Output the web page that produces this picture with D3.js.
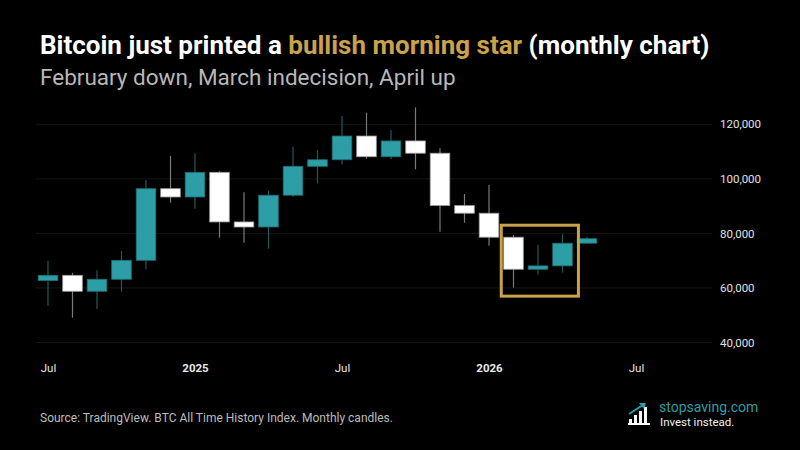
<!DOCTYPE html>
<html>
<head>
<meta charset="utf-8">
<script src="https://cdn.jsdelivr.net/npm/d3@7"></script>
<style>
  html, body { margin: 0; padding: 0; background: #000; }
  svg { display: block; }
</style>
</head>
<body>
<div id="chart"></div>
<script>
// monthly candles, Jul 2024 .. May 2026 (index 0 = Jul 2024)
const months = ["2024-07","2024-08","2024-09","2024-10","2024-11","2024-12",
  "2025-01","2025-02","2025-03","2025-04","2025-05","2025-06","2025-07","2025-08",
  "2025-09","2025-10","2025-11","2025-12","2026-01","2026-02","2026-03","2026-04","2026-05"];
const opens  = [62700, 64640, 58780, 63180, 70140, 96390, 93350, 102400, 84200, 82350, 94000, 104600, 107000, 115700, 108100, 113900, 109400, 90200, 87400, 78600, 66850, 68100, 76400];
const highs  = [69900, 65500, 66500, 73550, 99580, 108380, 109400, 102800, 95070, 95660, 111800, 110500, 123000, 124250, 117900, 126200, 111200, 94450, 97750, 79400, 75860, 79670, 78800];
const lows   = [53500, 49100, 52400, 58630, 66840, 91260, 89060, 78430, 76600, 74400, 93400, 98370, 105300, 107400, 107300, 103500, 80630, 83930, 75500, 60100, 64860, 65600, 76300];
const closes = [64640, 58780, 63180, 70140, 96390, 93350, 102400, 84200, 82350, 94000, 104600, 107000, 115700, 108100, 113900, 109400, 90200, 87400, 78600, 66850, 68100, 76400, 78060];

const xTickIdx    = [0, 6, 12, 18, 24];
const xTickLabels = ["Jul", "2025", "Jul", "2026", "Jul"];
const yTicks      = [40000, 60000, 80000, 100000, 120000];

// morning star highlight: Feb..Apr 2026
const starMonths = [19, 21];
const starRange  = [57000, 83000];

const W = 800, H = 450;
const teal = "#2d9ea6", gold = "#c9a24b";

const svg = d3.select("#chart").append("svg")
  .attr("width", W).attr("height", H)
  .style("background", "#000")
  .style("font-family", "Roboto, 'Noto Sans', sans-serif");

// title
const title = svg.append("text")
  .attr("x", 40).attr("y", 54)
  .attr("font-size", 26).attr("font-weight", 700).attr("fill", "#fff");
title.append("tspan").text("Bitcoin just printed a ");
title.append("tspan").attr("fill", gold).text("bullish morning star");
title.append("tspan").text(" (monthly chart)");

svg.append("text")
  .attr("x", 40).attr("y", 85)
  .attr("font-size", 22.5).attr("fill", "#b8b8b8")
  .text("February down, March indecision, April up");

// scales
const x = d3.scaleLinear().domain([0, 24]).range([48, 636]);
const y = d3.scaleLinear().domain([40000, 120000]).range([342.5, 124.3]);
const step = x(1) - x(0);
const bw = step * 0.8;

// grid
svg.append("g").selectAll("line")
  .data(yTicks).enter().append("line")
    .attr("x1", 36).attr("x2", 712)
    .attr("y1", d => y(d)).attr("y2", d => y(d))
    .attr("stroke", "#151515").attr("stroke-width", 1);

// y axis (right)
const yAxis = svg.append("g")
  .attr("transform", "translate(720,0)")
  .call(d3.axisRight(y).tickValues(yTicks).tickSize(0).tickPadding(0)
    .tickFormat(d3.format(",")));
yAxis.select(".domain").remove();
yAxis.selectAll("text")
  .attr("fill", "#e0e0e0").attr("font-size", 11.5)
  .attr("font-family", "Roboto, sans-serif");

// x axis
const xAxis = svg.append("g")
  .attr("transform", "translate(0,364)")
  .call(d3.axisBottom(x).tickValues(xTickIdx).tickSize(0).tickPadding(0)
    .tickFormat((d, i) => xTickLabels[i]));
xAxis.select(".domain").remove();
xAxis.selectAll("text")
  .attr("fill", "#e8e8e8").attr("font-size", 11.5)
  .attr("font-family", "Roboto, sans-serif")
  .attr("font-weight", (d, i) => /^\d/.test(xTickLabels[i]) ? 700 : 400);

// candles
const candles = months.map((m, i) => ({
  i, o: opens[i], h: highs[i], l: lows[i], c: closes[i], up: closes[i] >= opens[i]
}));

const cg = svg.append("g");
cg.selectAll("line.wick")
  .data(candles).enter().append("line")
    .attr("class", "wick")
    .attr("x1", d => x(d.i)).attr("x2", d => x(d.i))
    .attr("y1", d => y(d.h)).attr("y2", d => y(d.l))
    .attr("stroke", d => d.up ? "#1f5a5f" : "#7a7a7a")
    .attr("stroke-width", 1.2);

cg.selectAll("rect.body")
  .data(candles).enter().append("rect")
    .attr("class", "body")
    .attr("x", d => x(d.i) - bw / 2)
    .attr("width", bw)
    .attr("y", d => y(Math.max(d.o, d.c)))
    .attr("height", d => Math.max(1.5, Math.abs(y(d.o) - y(d.c))))
    .attr("fill", d => d.up ? teal : "#ffffff")
    .attr("stroke", d => d.up ? "#1f6d73" : "#9a9a9a")
    .attr("stroke-width", 0.8);

// morning star box
svg.append("rect")
  .attr("x", x(starMonths[0]) - step * 0.5)
  .attr("y", y(starRange[1]))
  .attr("width", x(starMonths[1]) - x(starMonths[0]) + step * 1.15)
  .attr("height", y(starRange[0]) - y(starRange[1]))
  .attr("fill", "none")
  .attr("stroke", gold)
  .attr("stroke-width", 3);

// source
svg.append("text")
  .attr("x", 40).attr("y", 422)
  .attr("font-size", 12).attr("fill", "#bdbdbd")
  .text("Source: TradingView. BTC All Time History Index. Monthly candles.");

// logo
const logo = svg.append("g").attr("transform", "translate(628,403)");
[[1, 16], [6, 12], [11, 8], [16, 4]].forEach(b => {
  logo.append("rect").attr("x", b[0]).attr("y", b[1]).attr("width", 3).attr("height", 20 - b[1])
    .attr("fill", "#fff");
});
logo.append("rect").attr("x", 0).attr("y", 20).attr("width", 22).attr("height", 2).attr("fill", "#fff");
logo.append("path")
  .attr("d", "M1,11 L15,2")
  .attr("stroke", teal).attr("stroke-width", 2).attr("fill", "none");
logo.append("path")
  .attr("d", "M11,0 L18,0 L16,6 Z")
  .attr("fill", teal);

svg.append("text")
  .attr("x", 659).attr("y", 412)
  .attr("font-size", 14).attr("fill", teal)
  .text("stopsaving.com");
svg.append("text")
  .attr("x", 660).attr("y", 426)
  .attr("font-size", 11.5).attr("fill", "#f0f0f0")
  .text("Invest instead.");
</script>
</body>
</html>
